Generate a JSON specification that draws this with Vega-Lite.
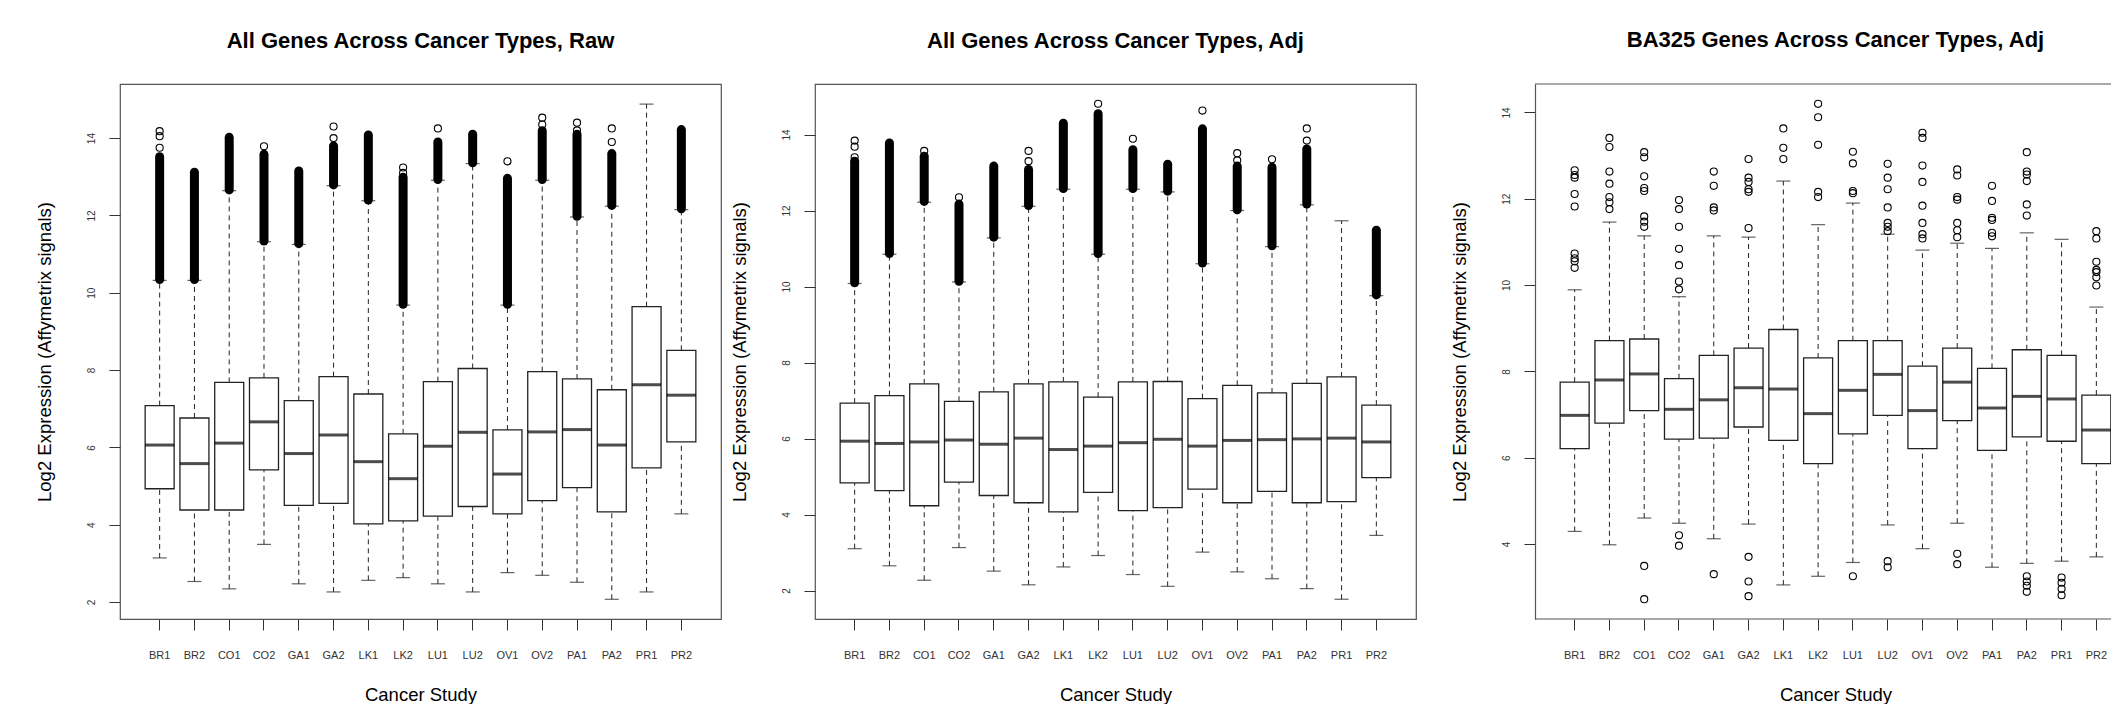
{
"$schema": "https://vega.github.io/schema/vega-lite/v6.json",
"background": "white",
"padding": {"left": 34, "top": 29, "right": 0, "bottom": 0},
"config": {
  "font": "Liberation Sans",
  "view": {"stroke": "#555", "strokeWidth": 1.2},
  "axis": {"grid": false, "domain": false, "ticks": true, "tickColor": "#333", "tickSize": 11, "tickWidth": 1, "labelColor": "#333", "labelFont": "Liberation Sans", "titleFont": "Liberation Sans", "titleFontWeight": "normal", "titleFontSize": 18.5, "titleColor": "#000"},
  "title": {"font": "Liberation Sans", "fontSize": 22, "fontWeight": "bold", "color": "#000", "anchor": "middle", "frame": "group", "offset": 31, "baseline": "alphabetic"}
},
"datasets": {
"stats": [
{"p":"raw","s":"BR1","lw":3.14,"q1":4.93,"med":6.06,"q3":7.08,"uw":10.32,"dlo":10.34,"dhi":13.52},
{"p":"raw","s":"BR2","lw":2.53,"q1":4.38,"med":5.58,"q3":6.76,"uw":10.32,"dlo":10.34,"dhi":13.12},
{"p":"raw","s":"CO1","lw":2.34,"q1":4.38,"med":6.11,"q3":7.68,"uw":12.64,"dlo":12.66,"dhi":14.02},
{"p":"raw","s":"CO2","lw":3.49,"q1":5.42,"med":6.66,"q3":7.80,"uw":11.32,"dlo":11.34,"dhi":13.58},
{"p":"raw","s":"GA1","lw":2.47,"q1":4.50,"med":5.84,"q3":7.21,"uw":11.25,"dlo":11.27,"dhi":13.15},
{"p":"raw","s":"GA2","lw":2.26,"q1":4.55,"med":6.32,"q3":7.83,"uw":12.77,"dlo":12.79,"dhi":13.80},
{"p":"raw","s":"LK1","lw":2.56,"q1":4.02,"med":5.63,"q3":7.38,"uw":12.38,"dlo":12.40,"dhi":14.08},
{"p":"raw","s":"LK2","lw":2.63,"q1":4.10,"med":5.19,"q3":6.35,"uw":9.68,"dlo":9.70,"dhi":12.99},
{"p":"raw","s":"LU1","lw":2.47,"q1":4.22,"med":6.03,"q3":7.70,"uw":12.91,"dlo":12.93,"dhi":13.90},
{"p":"raw","s":"LU2","lw":2.26,"q1":4.47,"med":6.39,"q3":8.04,"uw":13.34,"dlo":13.36,"dhi":14.10},
{"p":"raw","s":"OV1","lw":2.76,"q1":4.28,"med":5.31,"q3":6.45,"uw":9.68,"dlo":9.70,"dhi":12.96},
{"p":"raw","s":"OV2","lw":2.69,"q1":4.62,"med":6.40,"q3":7.96,"uw":12.91,"dlo":12.93,"dhi":14.19},
{"p":"raw","s":"PA1","lw":2.51,"q1":4.96,"med":6.46,"q3":7.77,"uw":11.96,"dlo":11.98,"dhi":14.10},
{"p":"raw","s":"PA2","lw":2.07,"q1":4.33,"med":6.06,"q3":7.49,"uw":12.24,"dlo":12.26,"dhi":13.60},
{"p":"raw","s":"PR1","lw":2.26,"q1":5.47,"med":7.62,"q3":9.64,"uw":14.88,"dlo":null,"dhi":null},
{"p":"raw","s":"PR2","lw":4.28,"q1":6.14,"med":7.35,"q3":8.51,"uw":12.15,"dlo":12.17,"dhi":14.22},
{"p":"adj","s":"BR1","lw":3.10,"q1":4.83,"med":5.93,"q3":6.93,"uw":10.08,"dlo":10.10,"dhi":13.30},
{"p":"adj","s":"BR2","lw":2.65,"q1":4.63,"med":5.87,"q3":7.13,"uw":10.85,"dlo":10.87,"dhi":13.78},
{"p":"adj","s":"CO1","lw":2.27,"q1":4.23,"med":5.91,"q3":7.44,"uw":12.22,"dlo":12.24,"dhi":13.43},
{"p":"adj","s":"CO2","lw":3.13,"q1":4.85,"med":5.96,"q3":6.98,"uw":10.12,"dlo":10.14,"dhi":12.17},
{"p":"adj","s":"GA1","lw":2.51,"q1":4.50,"med":5.85,"q3":7.23,"uw":11.28,"dlo":11.30,"dhi":13.17},
{"p":"adj","s":"GA2","lw":2.15,"q1":4.31,"med":6.01,"q3":7.44,"uw":12.11,"dlo":12.13,"dhi":13.08},
{"p":"adj","s":"LK1","lw":2.62,"q1":4.07,"med":5.71,"q3":7.49,"uw":12.56,"dlo":12.58,"dhi":14.30},
{"p":"adj","s":"LK2","lw":2.92,"q1":4.58,"med":5.80,"q3":7.09,"uw":10.85,"dlo":10.87,"dhi":14.55},
{"p":"adj","s":"LU1","lw":2.42,"q1":4.10,"med":5.89,"q3":7.49,"uw":12.56,"dlo":12.58,"dhi":13.60},
{"p":"adj","s":"LU2","lw":2.11,"q1":4.18,"med":5.98,"q3":7.50,"uw":12.49,"dlo":12.51,"dhi":13.22},
{"p":"adj","s":"OV1","lw":3.01,"q1":4.67,"med":5.80,"q3":7.05,"uw":10.60,"dlo":10.62,"dhi":14.15},
{"p":"adj","s":"OV2","lw":2.49,"q1":4.31,"med":5.95,"q3":7.40,"uw":12.00,"dlo":12.02,"dhi":13.17},
{"p":"adj","s":"PA1","lw":2.31,"q1":4.61,"med":5.97,"q3":7.20,"uw":11.05,"dlo":11.07,"dhi":13.14},
{"p":"adj","s":"PA2","lw":2.05,"q1":4.31,"med":5.99,"q3":7.45,"uw":12.15,"dlo":12.17,"dhi":13.62},
{"p":"adj","s":"PR1","lw":1.77,"q1":4.34,"med":6.01,"q3":7.62,"uw":11.73,"dlo":null,"dhi":null},
{"p":"adj","s":"PR2","lw":3.45,"q1":4.97,"med":5.91,"q3":6.88,"uw":9.76,"dlo":9.78,"dhi":11.48},
{"p":"ba","s":"BR1","lw":4.29,"q1":6.21,"med":6.98,"q3":7.75,"uw":9.89},
{"p":"ba","s":"BR2","lw":3.98,"q1":6.80,"med":7.80,"q3":8.71,"uw":11.46},
{"p":"ba","s":"CO1","lw":4.60,"q1":7.09,"med":7.94,"q3":8.75,"uw":11.14},
{"p":"ba","s":"CO2","lw":4.48,"q1":6.43,"med":7.12,"q3":7.83,"uw":9.73},
{"p":"ba","s":"GA1","lw":4.12,"q1":6.45,"med":7.34,"q3":8.37,"uw":11.14},
{"p":"ba","s":"GA2","lw":4.46,"q1":6.71,"med":7.62,"q3":8.54,"uw":11.11},
{"p":"ba","s":"LK1","lw":3.05,"q1":6.40,"med":7.59,"q3":8.97,"uw":12.41},
{"p":"ba","s":"LK2","lw":3.25,"q1":5.86,"med":7.02,"q3":8.31,"uw":11.40},
{"p":"ba","s":"LU1","lw":3.57,"q1":6.55,"med":7.56,"q3":8.71,"uw":11.90},
{"p":"ba","s":"LU2","lw":4.44,"q1":6.98,"med":7.93,"q3":8.71,"uw":11.18},
{"p":"ba","s":"OV1","lw":3.89,"q1":6.21,"med":7.09,"q3":8.12,"uw":10.81},
{"p":"ba","s":"OV2","lw":4.48,"q1":6.86,"med":7.75,"q3":8.54,"uw":10.97},
{"p":"ba","s":"PA1","lw":3.46,"q1":6.17,"med":7.15,"q3":8.07,"uw":10.85},
{"p":"ba","s":"PA2","lw":3.55,"q1":6.48,"med":7.42,"q3":8.50,"uw":11.21},
{"p":"ba","s":"PR1","lw":3.60,"q1":6.38,"med":7.36,"q3":8.37,"uw":11.06},
{"p":"ba","s":"PR2","lw":3.70,"q1":5.86,"med":6.64,"q3":7.45,"uw":9.49}
],
"outliers": [
{"p":"raw","s":"BR1","v":13.75},{"p":"raw","s":"BR1","v":14.05},{"p":"raw","s":"BR1","v":14.18},
{"p":"raw","s":"CO2","v":13.79},
{"p":"raw","s":"GA2","v":14.0},{"p":"raw","s":"GA2","v":14.3},
{"p":"raw","s":"LK2","v":13.1},{"p":"raw","s":"LK2","v":13.24},
{"p":"raw","s":"LU1","v":14.25},
{"p":"raw","s":"OV1","v":13.4},
{"p":"raw","s":"OV2","v":14.35},{"p":"raw","s":"OV2","v":14.53},
{"p":"raw","s":"PA1","v":14.2},{"p":"raw","s":"PA1","v":14.4},
{"p":"raw","s":"PA2","v":13.9},{"p":"raw","s":"PA2","v":14.25},
{"p":"adj","s":"BR1","v":13.4},{"p":"adj","s":"BR1","v":13.68},{"p":"adj","s":"BR1","v":13.84},
{"p":"adj","s":"CO1","v":13.57},
{"p":"adj","s":"CO2","v":12.35},
{"p":"adj","s":"GA2","v":13.3},{"p":"adj","s":"GA2","v":13.57},
{"p":"adj","s":"LK2","v":14.81},
{"p":"adj","s":"LU1","v":13.89},
{"p":"adj","s":"OV1","v":14.63},
{"p":"adj","s":"OV2","v":13.32},{"p":"adj","s":"OV2","v":13.51},
{"p":"adj","s":"PA1","v":13.35},
{"p":"adj","s":"PA2","v":13.84},{"p":"adj","s":"PA2","v":14.16},
{"p":"ba","s":"BR1","v":12.66},{"p":"ba","s":"BR1","v":12.55},{"p":"ba","s":"BR1","v":12.49},{"p":"ba","s":"BR1","v":12.11},{"p":"ba","s":"BR1","v":11.82},{"p":"ba","s":"BR1","v":10.73},{"p":"ba","s":"BR1","v":10.62},{"p":"ba","s":"BR1","v":10.55},{"p":"ba","s":"BR1","v":10.40},
{"p":"ba","s":"BR2","v":13.41},{"p":"ba","s":"BR2","v":13.20},{"p":"ba","s":"BR2","v":12.63},{"p":"ba","s":"BR2","v":12.35},{"p":"ba","s":"BR2","v":12.04},{"p":"ba","s":"BR2","v":11.92},{"p":"ba","s":"BR2","v":11.76},
{"p":"ba","s":"CO1","v":13.08},{"p":"ba","s":"CO1","v":12.96},{"p":"ba","s":"CO1","v":12.52},{"p":"ba","s":"CO1","v":12.25},{"p":"ba","s":"CO1","v":12.18},{"p":"ba","s":"CO1","v":11.59},{"p":"ba","s":"CO1","v":11.47},{"p":"ba","s":"CO1","v":11.35},{"p":"ba","s":"CO1","v":3.49},{"p":"ba","s":"CO1","v":2.72},
{"p":"ba","s":"CO2","v":11.97},{"p":"ba","s":"CO2","v":11.76},{"p":"ba","s":"CO2","v":11.35},{"p":"ba","s":"CO2","v":10.84},{"p":"ba","s":"CO2","v":10.46},{"p":"ba","s":"CO2","v":10.08},{"p":"ba","s":"CO2","v":9.90},{"p":"ba","s":"CO2","v":4.20},{"p":"ba","s":"CO2","v":3.96},
{"p":"ba","s":"GA1","v":12.63},{"p":"ba","s":"GA1","v":12.30},{"p":"ba","s":"GA1","v":11.80},{"p":"ba","s":"GA1","v":11.73},{"p":"ba","s":"GA1","v":3.30},
{"p":"ba","s":"GA2","v":12.92},{"p":"ba","s":"GA2","v":12.49},{"p":"ba","s":"GA2","v":12.39},{"p":"ba","s":"GA2","v":12.22},{"p":"ba","s":"GA2","v":12.16},{"p":"ba","s":"GA2","v":11.32},{"p":"ba","s":"GA2","v":3.70},{"p":"ba","s":"GA2","v":3.13},{"p":"ba","s":"GA2","v":2.79},
{"p":"ba","s":"LK1","v":13.63},{"p":"ba","s":"LK1","v":13.18},{"p":"ba","s":"LK1","v":12.92},
{"p":"ba","s":"LK2","v":14.20},{"p":"ba","s":"LK2","v":13.89},{"p":"ba","s":"LK2","v":13.25},{"p":"ba","s":"LK2","v":12.16},{"p":"ba","s":"LK2","v":12.04},
{"p":"ba","s":"LU1","v":13.09},{"p":"ba","s":"LU1","v":12.82},{"p":"ba","s":"LU1","v":12.18},{"p":"ba","s":"LU1","v":12.13},{"p":"ba","s":"LU1","v":3.25},
{"p":"ba","s":"LU2","v":12.81},{"p":"ba","s":"LU2","v":12.49},{"p":"ba","s":"LU2","v":12.22},{"p":"ba","s":"LU2","v":11.80},{"p":"ba","s":"LU2","v":11.44},{"p":"ba","s":"LU2","v":11.35},{"p":"ba","s":"LU2","v":11.25},{"p":"ba","s":"LU2","v":3.60},{"p":"ba","s":"LU2","v":3.46},
{"p":"ba","s":"OV1","v":13.53},{"p":"ba","s":"OV1","v":13.41},{"p":"ba","s":"OV1","v":12.77},{"p":"ba","s":"OV1","v":12.39},{"p":"ba","s":"OV1","v":11.84},{"p":"ba","s":"OV1","v":11.44},{"p":"ba","s":"OV1","v":11.18},{"p":"ba","s":"OV1","v":11.08},
{"p":"ba","s":"OV2","v":12.68},{"p":"ba","s":"OV2","v":12.54},{"p":"ba","s":"OV2","v":12.04},{"p":"ba","s":"OV2","v":11.98},{"p":"ba","s":"OV2","v":11.44},{"p":"ba","s":"OV2","v":11.27},{"p":"ba","s":"OV2","v":11.11},{"p":"ba","s":"OV2","v":3.77},{"p":"ba","s":"OV2","v":3.53},
{"p":"ba","s":"PA1","v":12.30},{"p":"ba","s":"PA1","v":11.95},{"p":"ba","s":"PA1","v":11.56},{"p":"ba","s":"PA1","v":11.51},{"p":"ba","s":"PA1","v":11.21},{"p":"ba","s":"PA1","v":11.13},
{"p":"ba","s":"PA2","v":13.08},{"p":"ba","s":"PA2","v":12.63},{"p":"ba","s":"PA2","v":12.56},{"p":"ba","s":"PA2","v":12.41},{"p":"ba","s":"PA2","v":11.87},{"p":"ba","s":"PA2","v":11.61},{"p":"ba","s":"PA2","v":3.25},{"p":"ba","s":"PA2","v":3.13},{"p":"ba","s":"PA2","v":3.03},{"p":"ba","s":"PA2","v":2.89},
{"p":"ba","s":"PR1","v":3.22},{"p":"ba","s":"PR1","v":3.10},{"p":"ba","s":"PR1","v":2.96},{"p":"ba","s":"PR1","v":2.81},
{"p":"ba","s":"PR2","v":11.25},{"p":"ba","s":"PR2","v":11.08},{"p":"ba","s":"PR2","v":10.54},{"p":"ba","s":"PR2","v":10.35},{"p":"ba","s":"PR2","v":10.30},{"p":"ba","s":"PR2","v":10.18},{"p":"ba","s":"PR2","v":9.99}
]
},
"spacing": 33,
"bounds": "full",
"hconcat": [
{"spacing": 94, "bounds": "flush", "hconcat": [
{
 "width": 601, "height": 535,
 "title": {"text": "All Genes Across Cancer Types, Raw"},
 "data": {"name": "stats"},
 "transform": [{"filter": "datum.p == 'raw'"}],
 "layer": [
  {"mark": {"type": "rule", "strokeDash": [5, 4], "color": "#222", "strokeWidth": 1},
   "encoding": {
    "x": {"field": "s", "type": "nominal", "scale": {"type": "band", "domain": ["BR1","BR2","CO1","CO2","GA1","GA2","LK1","LK2","LU1","LU2","OV1","OV2","PA1","PA2","PR1","PR2"], "paddingInner": 0, "paddingOuter": 0.64},
      "axis": {"title": "Cancer Study", "labelAngle": 0, "labelFontSize": 11, "labelBaseline": "middle", "labelPadding": 25, "titleX": 300.5, "titleY": 75, "titleBaseline": "middle", "titleAlign": "center"}},
    "y": {"field": "lw", "type": "quantitative", "scale": {"domain": [1.56, 15.4], "nice": false, "zero": false},
      "axis": {"title": "Log2 Expression (Affymetrix signals)", "values": [2,4,6,8,10,12,14], "labelAngle": -90, "labelAlign": "center", "labelBaseline": "middle", "labelPadding": 18, "labelFontSize": 10, "titleAngle": -90, "titleX": -76, "titleY": 267.5, "titleAlign": "center", "titleBaseline": "middle"}},
    "y2": {"field": "q1"}}},
  {"mark": {"type": "rule", "strokeDash": [5, 4], "color": "#222", "strokeWidth": 1},
   "encoding": {"x": {"field": "s", "type": "nominal"}, "y": {"field": "q3", "type": "quantitative"}, "y2": {"field": "uw"}}},
  {"mark": {"type": "tick", "size": 14, "thickness": 1.2, "color": "#222"},
   "encoding": {"x": {"field": "s", "type": "nominal"}, "y": {"field": "lw", "type": "quantitative"}}},
  {"mark": {"type": "tick", "size": 14, "thickness": 1.2, "color": "#222"},
   "encoding": {"x": {"field": "s", "type": "nominal"}, "y": {"field": "uw", "type": "quantitative"}}},
  {"transform": [{"filter": "datum.dlo != null"}],
   "mark": {"type": "rule", "strokeWidth": 9, "strokeCap": "round", "color": "#000"},
   "encoding": {"x": {"field": "s", "type": "nominal"}, "y": {"field": "dlo", "type": "quantitative"}, "y2": {"field": "dhi"}}},
  {"mark": {"type": "bar", "size": 29, "fill": "#fff", "stroke": "#222", "strokeWidth": 1.3},
   "encoding": {"x": {"field": "s", "type": "nominal"}, "y": {"field": "q1", "type": "quantitative"}, "y2": {"field": "q3"}}},
  {"mark": {"type": "tick", "size": 29, "thickness": 3, "color": "#000"},
   "encoding": {"x": {"field": "s", "type": "nominal"}, "y": {"field": "med", "type": "quantitative"}}},
  {"data": {"name": "outliers"}, "transform": [{"filter": "datum.p == 'raw'"}],
   "mark": {"type": "point", "shape": "circle", "filled": false, "size": 50, "strokeWidth": 1.1, "color": "#000", "opacity": 1},
   "encoding": {"x": {"field": "s", "type": "nominal"}, "y": {"field": "v", "type": "quantitative"}}}
 ]
},
{
 "width": 601, "height": 535,
 "title": {"text": "All Genes Across Cancer Types, Adj"},
 "data": {"name": "stats"},
 "transform": [{"filter": "datum.p == 'adj'"}],
 "layer": [
  {"mark": {"type": "rule", "strokeDash": [5, 4], "color": "#222", "strokeWidth": 1},
   "encoding": {
    "x": {"field": "s", "type": "nominal", "scale": {"type": "band", "domain": ["BR1","BR2","CO1","CO2","GA1","GA2","LK1","LK2","LU1","LU2","OV1","OV2","PA1","PA2","PR1","PR2"], "paddingInner": 0, "paddingOuter": 0.64},
      "axis": {"title": "Cancer Study", "labelAngle": 0, "labelFontSize": 11, "labelBaseline": "middle", "labelPadding": 25, "titleX": 300.5, "titleY": 75, "titleBaseline": "middle", "titleAlign": "center"}},
    "y": {"field": "lw", "type": "quantitative", "scale": {"domain": [1.25, 15.33], "nice": false, "zero": false},
      "axis": {"title": "Log2 Expression (Affymetrix signals)", "values": [2,4,6,8,10,12,14], "labelAngle": -90, "labelAlign": "center", "labelBaseline": "middle", "labelPadding": 18, "labelFontSize": 10, "titleAngle": -90, "titleX": -76, "titleY": 267.5, "titleAlign": "center", "titleBaseline": "middle"}},
    "y2": {"field": "q1"}}},
  {"mark": {"type": "rule", "strokeDash": [5, 4], "color": "#222", "strokeWidth": 1},
   "encoding": {"x": {"field": "s", "type": "nominal"}, "y": {"field": "q3", "type": "quantitative"}, "y2": {"field": "uw"}}},
  {"mark": {"type": "tick", "size": 14, "thickness": 1.2, "color": "#222"},
   "encoding": {"x": {"field": "s", "type": "nominal"}, "y": {"field": "lw", "type": "quantitative"}}},
  {"mark": {"type": "tick", "size": 14, "thickness": 1.2, "color": "#222"},
   "encoding": {"x": {"field": "s", "type": "nominal"}, "y": {"field": "uw", "type": "quantitative"}}},
  {"transform": [{"filter": "datum.dlo != null"}],
   "mark": {"type": "rule", "strokeWidth": 9, "strokeCap": "round", "color": "#000"},
   "encoding": {"x": {"field": "s", "type": "nominal"}, "y": {"field": "dlo", "type": "quantitative"}, "y2": {"field": "dhi"}}},
  {"mark": {"type": "bar", "size": 29, "fill": "#fff", "stroke": "#222", "strokeWidth": 1.3},
   "encoding": {"x": {"field": "s", "type": "nominal"}, "y": {"field": "q1", "type": "quantitative"}, "y2": {"field": "q3"}}},
  {"mark": {"type": "tick", "size": 29, "thickness": 3, "color": "#000"},
   "encoding": {"x": {"field": "s", "type": "nominal"}, "y": {"field": "med", "type": "quantitative"}}},
  {"data": {"name": "outliers"}, "transform": [{"filter": "datum.p == 'adj'"}],
   "mark": {"type": "point", "shape": "circle", "filled": false, "size": 50, "strokeWidth": 1.1, "color": "#000", "opacity": 1},
   "encoding": {"x": {"field": "s", "type": "nominal"}, "y": {"field": "v", "type": "quantitative"}}}
 ]
}
]},
{
 "width": 576, "height": 535,
 "view": {"stroke": null},
 "title": {"text": "BA325 Genes Across Cancer Types, Adj", "dx": 12.5},
 "data": {"name": "stats"},
 "transform": [{"filter": "datum.p == 'ba'"}],
 "layer": [
  {"mark": {"type": "rule", "strokeDash": [5, 4], "color": "#222", "strokeWidth": 1},
   "encoding": {
    "x": {"field": "s", "type": "nominal", "scale": {"type": "band", "domain": ["BR1","BR2","CO1","CO2","GA1","GA2","LK1","LK2","LU1","LU2","OV1","OV2","PA1","PA2","PR1","PR2"], "paddingInner": 0, "paddingOuter": 0.64, "range": [0, 601]},
      "axis": {"title": "Cancer Study", "labelAngle": 0, "labelFontSize": 11, "labelBaseline": "middle", "labelPadding": 25, "titleX": 300.5, "titleY": 75, "titleBaseline": "middle", "titleAlign": "center"}},
    "y": {"field": "lw", "type": "quantitative", "scale": {"domain": [2.26, 14.66], "nice": false, "zero": false},
      "axis": {"title": "Log2 Expression (Affymetrix signals)", "values": [4,6,8,10,12,14], "domain": true, "domainColor": "#555", "domainWidth": 1.2, "labelAngle": -90, "labelAlign": "center", "labelBaseline": "middle", "labelPadding": 18, "labelFontSize": 10, "titleAngle": -90, "titleX": -76, "titleY": 267.5, "titleAlign": "center", "titleBaseline": "middle"}},
    "y2": {"field": "q1"}}},
  {"data": {"values": [{}]},
   "mark": {"type": "rule", "color": "#555", "strokeWidth": 1.2},
   "encoding": {"y": {"datum": 2.26, "type": "quantitative"}}},
  {"data": {"values": [{}]},
   "mark": {"type": "rule", "color": "#555", "strokeWidth": 1.2},
   "encoding": {"y": {"datum": 14.66, "type": "quantitative"}}},
  {"mark": {"type": "rule", "strokeDash": [5, 4], "color": "#222", "strokeWidth": 1},
   "encoding": {"x": {"field": "s", "type": "nominal"}, "y": {"field": "q3", "type": "quantitative"}, "y2": {"field": "uw"}}},
  {"mark": {"type": "tick", "size": 14, "thickness": 1.2, "color": "#222"},
   "encoding": {"x": {"field": "s", "type": "nominal"}, "y": {"field": "lw", "type": "quantitative"}}},
  {"mark": {"type": "tick", "size": 14, "thickness": 1.2, "color": "#222"},
   "encoding": {"x": {"field": "s", "type": "nominal"}, "y": {"field": "uw", "type": "quantitative"}}},
  {"mark": {"type": "bar", "size": 29, "fill": "#fff", "stroke": "#222", "strokeWidth": 1.3, "clip": true},
   "encoding": {"x": {"field": "s", "type": "nominal"}, "y": {"field": "q1", "type": "quantitative"}, "y2": {"field": "q3"}}},
  {"mark": {"type": "tick", "size": 29, "thickness": 3, "color": "#000", "clip": true},
   "encoding": {"x": {"field": "s", "type": "nominal"}, "y": {"field": "med", "type": "quantitative"}}},
  {"data": {"name": "outliers"}, "transform": [{"filter": "datum.p == 'ba'"}],
   "mark": {"type": "point", "shape": "circle", "filled": false, "size": 50, "strokeWidth": 1.1, "color": "#000", "opacity": 1},
   "encoding": {"x": {"field": "s", "type": "nominal"}, "y": {"field": "v", "type": "quantitative"}}}
 ]
}
]
}
